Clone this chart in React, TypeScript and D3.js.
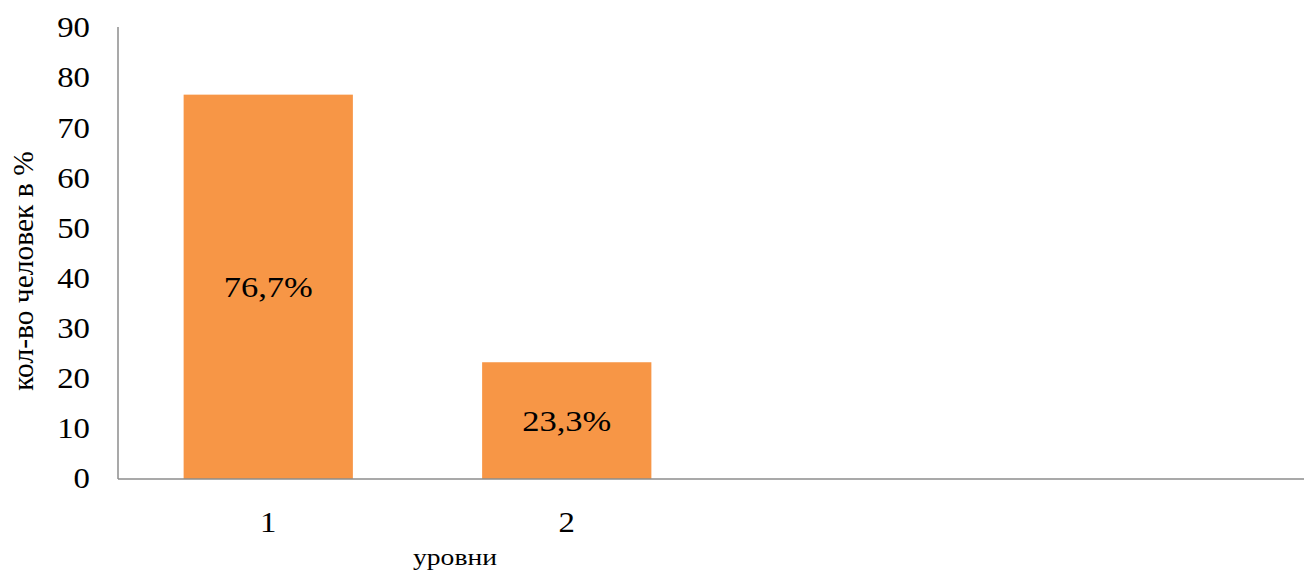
import React from "react";
import * as d3 from "d3";

const categories = ["1", "2", "3", "4"];
const tickLabels = ["1", "2", "", ""];
const values: (number | null)[] = [76.7, 23.3, null, null];
const valueLabels = ["76,7%", "23,3%", "", ""];
const yTicks = [0, 10, 20, 30, 40, 50, 60, 70, 80, 90];
const xTitle = "уровни";
const yTitle = "кол-во человек в %";

const W = 1304;
const H = 574;
const left = 118;
const right = 1313;
const top = 28;
const bottom = 479;
const FONT = "'Liberation Serif', 'Times New Roman', serif";
const SX = 1.15;

export default function App() {
  const x = d3
    .scaleBand<string>()
    .domain(categories)
    .range([left + 1, right])
    .paddingInner(0.433)
    .paddingOuter(0.2165);
  const y = d3.scaleLinear().domain([0, 90]).range([bottom, top]);

  return (
    <svg
      width={W}
      height={H}
      style={{ position: "absolute", left: 0, top: 0, background: "#fff" }}
    >
      {categories.map((c, i) =>
        values[i] == null ? null : (
          <rect
            key={c}
            x={x(c)!}
            y={y(values[i] as number)}
            width={x.bandwidth()}
            height={y(0) - y(values[i] as number)}
            fill="#F79646"
          />
        )
      )}
      {categories.map((c, i) =>
        values[i] == null ? null : (
          <g
            key={"l" + c}
            transform={`translate(${x(c)! + x.bandwidth() / 2},${(y(values[i] as number) + y(0)) / 2}) scale(${SX},1)`}
          >
            <text
              textAnchor="middle"
              dominantBaseline="central"
              fontFamily={FONT}
              fontSize={30}
              fill="#000"
            >
              {valueLabels[i]}
            </text>
          </g>
        )
      )}
      <line x1={left} x2={left} y1={top - 1} y2={bottom} stroke="#8c8c8c" strokeWidth={1.5} />
      <line x1={left} x2={W} y1={bottom} y2={bottom} stroke="#8c8c8c" strokeWidth={1.5} />
      {yTicks.map((t) => (
        <g key={t} transform={`translate(90,${y(t)}) scale(${SX},1)`}>
          <text
            textAnchor="end"
            dominantBaseline="central"
            fontFamily={FONT}
            fontSize={28.5}
            fill="#000"
          >
            {t}
          </text>
        </g>
      ))}
      {categories.map((c, i) => (
        <g key={"t" + c} transform={`translate(${x(c)! + x.bandwidth() / 2},523) scale(${SX},1)`}>
          <text
            textAnchor="middle"
            dominantBaseline="central"
            fontFamily={FONT}
            fontSize={28.5}
            fill="#000"
          >
            {tickLabels[i]}
          </text>
        </g>
      ))}
      <g transform={`translate(455,565) scale(${SX},1)`}>
        <text textAnchor="middle" fontFamily={FONT} fontSize={24} fill="#000">
          {xTitle}
        </text>
      </g>
      <g transform={`translate(33,271) rotate(-90)`}>
        <text textAnchor="middle" fontFamily={FONT} fontSize={29.5} fill="#000">
          {yTitle}
        </text>
      </g>
    </svg>
  );
}
